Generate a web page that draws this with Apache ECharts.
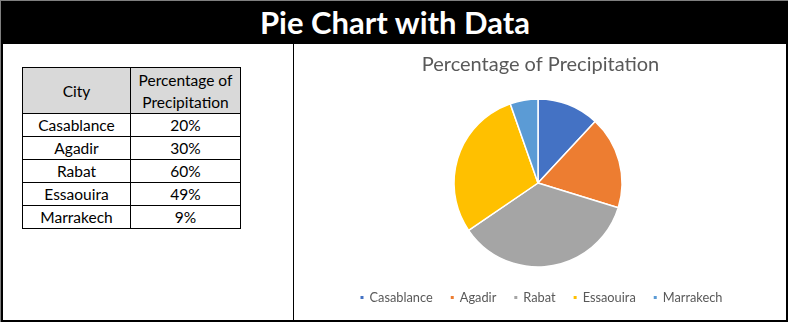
<!DOCTYPE html>
<html>
<head>
<meta charset="utf-8">
<script src="https://cdn.jsdelivr.net/npm/echarts@6/dist/echarts.min.js"></script>
<style>
  html, body { margin: 0; padding: 0; background: #fff; }
  #frame {
    position: relative; width: 788px; height: 322px; box-sizing: border-box;
    border-left: 1px solid #7f7f7f; border-top: 1px solid #7f7f7f;
    overflow: hidden; font-family: Lato, "Noto Sans", sans-serif;
  }
  #edgeL { position: absolute; left: 0; top: 0; width: 2px; height: 322px; background: #000; }
  #edgeR { position: absolute; left: 785px; top: 0; width: 2px; height: 322px; background: #000; }
  #edgeB { position: absolute; left: 0; top: 319px; width: 788px; height: 3px; background: #000; }
  #divider { position: absolute; left: 292px; top: 43px; width: 1px; height: 280px; background: #000; }
  #banner {
    position: absolute; left: 0; top: 0; width: 788px; height: 43px; background: #000;
    color: #fff; font-weight: bold; font-size: 31px; line-height: 43px; text-align: center;
  }
  #tbl {
    position: absolute; left: 21px; top: 66px; border-collapse: collapse;
    font-size: 15.5px; color: #000;
  }
  #tbl td, #tbl th { border: 1px solid #000; text-align: center; padding: 0; font-weight: normal; }
  #tbl th { background: #d9d9d9; height: 45px; line-height: 22px; }
  #tbl td { height: 22px; line-height: 22px; }
  #tbl .c1 { width: 107px; }
  #tbl .c2 { width: 109px; }
  #chart { position: absolute; left: 293px; top: 0; width: 493px; height: 322px; }
</style>
</head>
<body>
<div id="frame">
  <div id="banner">Pie Chart with Data</div>
  <div id="edgeL"></div>
  <div id="edgeR"></div>
  <div id="edgeB"></div>
  <div id="divider"></div>
  <table id="tbl"></table>
  <div id="chart"></div>
</div>
<script>
// Precipitation share per city
const cities = ['Casablance', 'Agadir', 'Rabat', 'Essaouira', 'Marrakech'];
const precipitation = [20, 30, 60, 49, 9];
const headers = ['City', 'Percentage of<br>Precipitation'];
const chartTitle = 'Percentage of Precipitation';
const sliceColors = ['#4472C4', '#ED7D31', '#A5A5A5', '#FFC000', '#5B9BD5'];

// data table on the left
const tbl = document.getElementById('tbl');
let html = '<tr><th class="c1">' + headers[0] + '</th><th class="c2">' + headers[1] + '</th></tr>';
cities.forEach((c, i) => {
  html += '<tr><td class="c1">' + c + '</td><td class="c2">' + precipitation[i] + '%</td></tr>';
});
tbl.innerHTML = html;

// pie chart in the right panel
const chart = echarts.init(document.getElementById('chart'), null, { renderer: 'canvas' });
chart.setOption({
  animation: false,
  color: sliceColors,
  title: {
    text: chartTitle,
    left: 'center', top: 49,
    textStyle: { fontFamily: 'Lato', fontWeight: 'normal', fontSize: 20, color: '#595959' }
  },
  legend: {
    data: cities,
    left: 'center', top: 285,
    orient: 'horizontal',
    icon: 'rect', itemWidth: 5, itemHeight: 5, itemGap: 16,
    textStyle: { fontFamily: 'Lato', fontSize: 12.8, color: '#595959' },
    selectedMode: false
  },
  series: [{
    type: 'pie',
    center: [244, 182],
    radius: 84,
    startAngle: 90,
    clockwise: true,
    label: { show: false },
    labelLine: { show: false },
    itemStyle: { borderColor: '#fff', borderWidth: 1.5 },
    emphasis: { disabled: true },
    data: cities.map((c, i) => ({ name: c, value: precipitation[i] }))
  }]
});
</script>
</body>
</html>
